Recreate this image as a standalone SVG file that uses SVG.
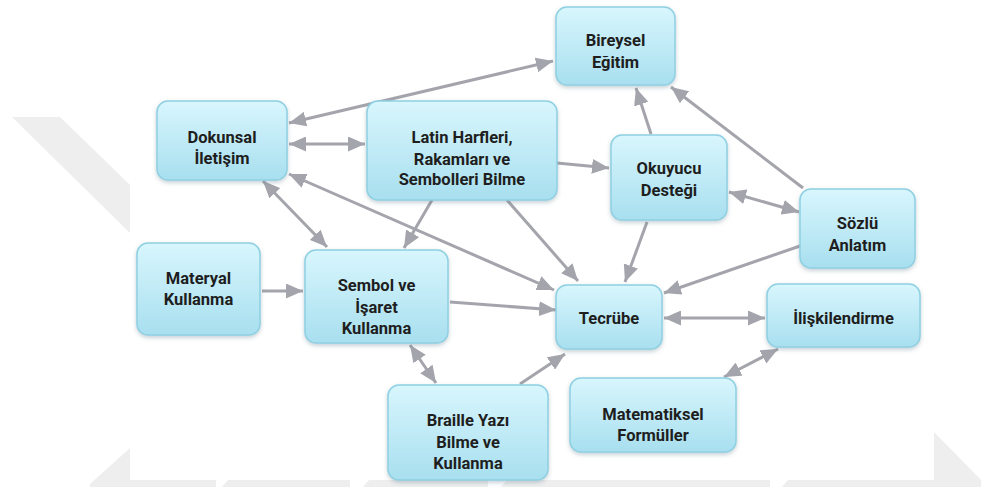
<svg xmlns="http://www.w3.org/2000/svg" width="981" height="489" viewBox="0 0 981 489">
  <defs>
    <linearGradient id="boxFill" x1="0" y1="0" x2="0" y2="1">
      <stop offset="0" stop-color="#d8f6fd"/>
      <stop offset="1" stop-color="#a8dfef"/>
    </linearGradient>
    <filter id="shadow" x="-10%" y="-10%" width="120%" height="130%">
      <feDropShadow dx="0" dy="2" stdDeviation="2" flood-color="#5a7a88" flood-opacity="0.35"/>
    </filter>
    <marker id="head" viewBox="0 0 17 15" refX="17" refY="7.5" markerWidth="17" markerHeight="15" markerUnits="userSpaceOnUse" orient="auto-start-reverse">
      <path d="M0,0 L17,7.5 L0,15 z" fill="#a4a4ac"/>
    </marker>
  </defs>
  <style>
    .box { fill: url(#boxFill); stroke: #8fd0e2; stroke-width: 1.5; filter: url(#shadow); }
    .lbl { font-family: Roboto, "Liberation Sans", sans-serif; font-size: 16.5px; font-weight: 700; fill: #1e1e1e; text-anchor: middle; }
    .wm { fill: #eeeeee; }
    .edge { stroke: #a4a4ac; stroke-width: 3; fill: none; }
    .one { marker-end: url(#head); }
    .two { marker-start: url(#head); marker-end: url(#head); }
  </style>

  <rect width="981" height="489" fill="#ffffff"/>

  <!-- faint background marks -->
  <g id="background-marks">
    <polygon class="wm" points="12,117 60,117 130,185 130,233"/>
    <polygon class="wm" points="90,484 130,448 130,480 216,480 216,487 90,487"/>
    <polygon class="wm" points="228,480 350,480 350,487 222,487"/>
    <polygon class="wm" points="369,480 488,480 488,487 363,487"/>
    <polygon class="wm" points="507,480 770,480 770,487 501,487"/>
    <polygon class="wm" points="788,480 934,480 934,487 782,487"/>
    <polygon class="wm" points="934,432 981,480 981,487 934,487"/>
  </g>

  <!-- connectors -->
  <g id="connectors">
    <line class="edge two" x1="289" y1="123" x2="553" y2="61"/>
    <line class="edge two" x1="289" y1="144" x2="365" y2="144"/>
    <line class="edge two" x1="289" y1="174" x2="554" y2="290"/>
    <line class="edge two" x1="263" y1="181" x2="327" y2="247"/>
    <line class="edge one" x1="557" y1="163" x2="609" y2="168"/>
    <line class="edge one" x1="432" y1="200" x2="404" y2="248"/>
    <line class="edge one" x1="507" y1="200" x2="578" y2="281"/>
    <line class="edge one" x1="651" y1="134" x2="636" y2="88"/>
    <line class="edge one" x1="803" y1="188" x2="671" y2="87"/>
    <line class="edge two" x1="729" y1="192" x2="799" y2="212"/>
    <line class="edge one" x1="647" y1="222" x2="625" y2="282"/>
    <line class="edge one" x1="800" y1="246" x2="664" y2="293"/>
    <line class="edge one" x1="262" y1="291" x2="303" y2="291"/>
    <line class="edge one" x1="450" y1="302" x2="556" y2="310"/>
    <line class="edge two" x1="410" y1="345" x2="436" y2="383"/>
    <line class="edge one" x1="520" y1="384" x2="565" y2="354"/>
    <line class="edge two" x1="664" y1="318" x2="765" y2="318"/>
    <line class="edge two" x1="724" y1="377" x2="778" y2="349"/>
  </g>

  <!-- nodes -->
  <g id="bireysel-egitim">
    <rect class="box" x="556" y="7" width="119" height="78" rx="11"/>
    <text class="lbl" x="615.5" y="46">Bireysel</text>
    <text class="lbl" x="615.5" y="68">Eğitim</text>
  </g>
  <g id="dokunsal-iletisim">
    <rect class="box" x="157" y="101" width="130" height="79" rx="11"/>
    <text class="lbl" x="222" y="143">Dokunsal</text>
    <text class="lbl" x="222" y="163.5">İletişim</text>
  </g>
  <g id="latin-harfleri">
    <rect class="box" x="367" y="101" width="190" height="99" rx="11"/>
    <text class="lbl" x="462" y="143">Latin Harfleri,</text>
    <text class="lbl" x="462" y="164.5">Rakamları ve</text>
    <text class="lbl" x="462" y="185">Sembolleri Bilme</text>
  </g>
  <g id="okuyucu-destegi">
    <rect class="box" x="611" y="135" width="116" height="85" rx="11"/>
    <text class="lbl" x="669" y="174">Okuyucu</text>
    <text class="lbl" x="669" y="196">Desteği</text>
  </g>
  <g id="sozlu-anlatim">
    <rect class="box" x="800" y="189" width="115" height="79" rx="11"/>
    <text class="lbl" x="857.5" y="229">Sözlü</text>
    <text class="lbl" x="857.5" y="251">Anlatım</text>
  </g>
  <g id="materyal-kullanma">
    <rect class="box" x="137" y="243" width="123" height="92" rx="11"/>
    <text class="lbl" x="198.5" y="284">Materyal</text>
    <text class="lbl" x="198.5" y="305">Kullanma</text>
  </g>
  <g id="sembol-isaret">
    <rect class="box" x="305" y="250" width="143" height="93" rx="11"/>
    <text class="lbl" x="376.5" y="291">Sembol ve</text>
    <text class="lbl" x="376.5" y="313">İşaret</text>
    <text class="lbl" x="376.5" y="334">Kullanma</text>
  </g>
  <g id="tecrube">
    <rect class="box" x="556" y="285" width="106" height="64" rx="11"/>
    <text class="lbl" x="609" y="324">Tecrübe</text>
  </g>
  <g id="iliskilendirme">
    <rect class="box" x="767" y="284" width="153" height="63" rx="11"/>
    <text class="lbl" x="843.5" y="324">İlişkilendirme</text>
  </g>
  <g id="braille-yazi">
    <rect class="box" x="388" y="385" width="160" height="95" rx="11"/>
    <text class="lbl" x="468" y="426">Braille Yazı</text>
    <text class="lbl" x="468" y="448">Bilme ve</text>
    <text class="lbl" x="468" y="469">Kullanma</text>
  </g>
  <g id="matematiksel-formuller">
    <rect class="box" x="570" y="378" width="166" height="74" rx="11"/>
    <text class="lbl" x="653" y="420">Matematiksel</text>
    <text class="lbl" x="653" y="441">Formüller</text>
  </g>
</svg>
